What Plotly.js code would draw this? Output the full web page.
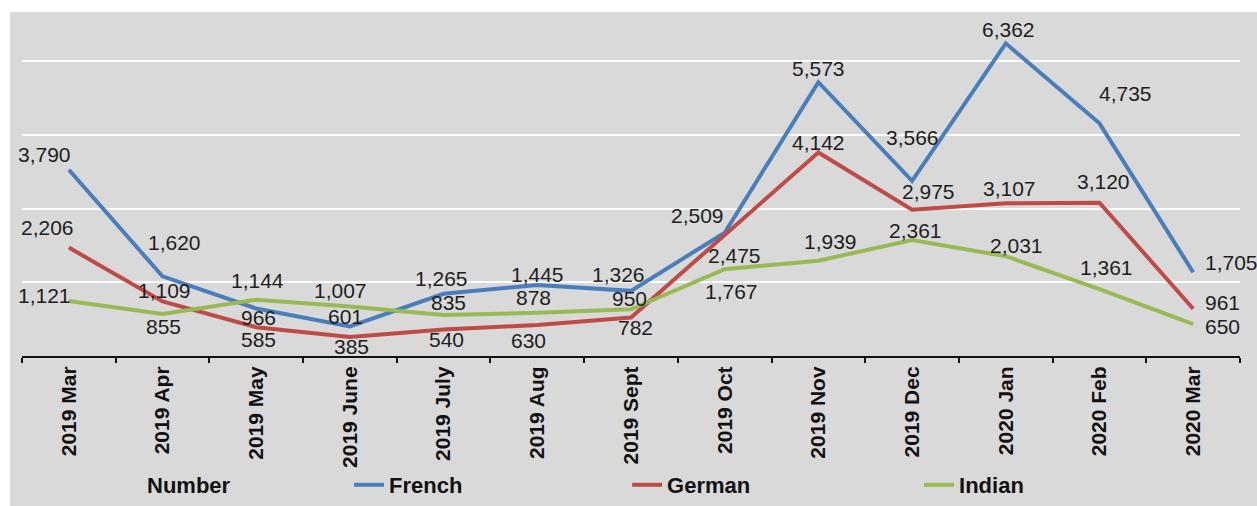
<!DOCTYPE html>
<html>
<head>
<meta charset="utf-8">
<script src="https://cdn.plot.ly/plotly-3.0.1.min.js"></script>
<style>
  html, body { margin: 0; padding: 0; background: #ffffff; width: 1257px; height: 506px; overflow: hidden; }
  #chart { position: absolute; left: 10px; top: 12px; width: 1247px; height: 494px; }
</style>
</head>
<body>
<div id="chart"></div>
<script>
// ---- data ----
const months = ['2019 Mar','2019 Apr','2019 May','2019 June','2019 July','2019 Aug','2019 Sept','2019 Oct','2019 Nov','2019 Dec','2020 Jan','2020 Feb','2020 Mar'];
const french = [3790,1620,966,601,1265,1445,1326,2509,5573,3566,6362,4735,1705];
const german = [2206,1109,585,385,540,630,782,2475,4142,2975,3107,3120,961];
const indian = [1121,855,1144,1007,835,878,950,1767,1939,2361,2031,1361,650];
const seriesNames = ['French','German','Indian'];
const legendTitle = 'Number';

// ---- styles (label offsets in px: [dx, dy-down]) ----
const colors = ['#4A7EBB','#BE4B48','#98B954'];
const offsets = [
  [[-24,-15],[12,-34],[2,9],[-4,-10],[-2,-15],[0,-10],[-13,-16],[-27,-17],[0,-14],[0,-43],[3,-14],[26,-30],[38,-10]],
  [[-21,-20],[2,-11],[2,12],[2,9],[3,10],[-9,15],[4,10],[10,21],[0,-10],[16,-18],[4,-15],[4,-21],[29,-6]],
  [[-24,-5],[1,13],[1,-19],[-9,-16],[5,-12],[-4,-15],[-2,-11],[7,22],[12,-19],[3,-9],[11,-11],[7,-22],[29,2]]
];
const legendIds = ['legend','legend2','legend3'];
const legendX = [0.2685, 0.4968, 0.7365];

const allSeries = [french, german, indian];
const FONT = 'Liberation Sans, Arial, sans-serif';

const traces = allSeries.map((vals, i) => ({
  type: 'scatter',
  mode: 'lines',
  x: months,
  y: vals,
  name: seriesNames[i],
  line: { color: colors[i], width: 4 },
  legend: legendIds[i],
  hoverinfo: 'x+y+name'
}));

const annotations = [];
allSeries.forEach((vals, i) => {
  vals.forEach((v, j) => {
    annotations.push({
      x: months[j], y: v, xref: 'x', yref: 'y',
      text: v.toLocaleString('en-US'),
      showarrow: false,
      xshift: offsets[i][j][0],
      yshift: -offsets[i][j][1],
      font: { family: FONT, size: 21, color: '#1e1e1e' }
    });
  });
});
annotations.push({
  xref: 'paper', yref: 'paper', x: 0.1371, y: -0.377,
  xanchor: 'center', yanchor: 'middle',
  text: '<b>' + legendTitle + '</b>', showarrow: false,
  font: { family: FONT, size: 22, color: '#111' }
});

const legendBase = (x) => ({
  orientation: 'h', x: x, y: -0.377, xanchor: 'left', yanchor: 'middle',
  bgcolor: 'rgba(0,0,0,0)', borderwidth: 0,
  font: { family: FONT, size: 22, color: '#111', weight: 'bold' }
});

const layout = {
  width: 1247, height: 494,
  paper_bgcolor: '#d9d9d9',
  plot_bgcolor: '#d9d9d9',
  margin: { l: 12, r: 17, t: 0, b: 149, pad: 0 },
  showlegend: true,
  legend: legendBase(legendX[0]),
  legend2: legendBase(legendX[1]),
  legend3: legendBase(legendX[2]),
  xaxis: {
    type: 'category',
    range: [-0.5, 12.5],
    showline: true, linecolor: '#111', linewidth: 2,
    ticks: 'outside', tickson: 'boundaries', ticklen: 5, tickwidth: 2, tickcolor: '#111',
    tickangle: -90,
    tickfont: { family: FONT, size: 21, color: '#111', weight: 'bold' },
    showgrid: false, zeroline: false, fixedrange: true
  },
  yaxis: {
    range: [0, 7000],
    tickvals: [1500, 3000, 4500, 6000],
    showticklabels: false,
    showgrid: true, gridcolor: '#ffffff', gridwidth: 2,
    zeroline: false, showline: false, ticks: '', fixedrange: true
  },
  annotations: annotations
};

Plotly.newPlot('chart', traces, layout, { displayModeBar: false, staticPlot: true });
</script>
</body>
</html>
